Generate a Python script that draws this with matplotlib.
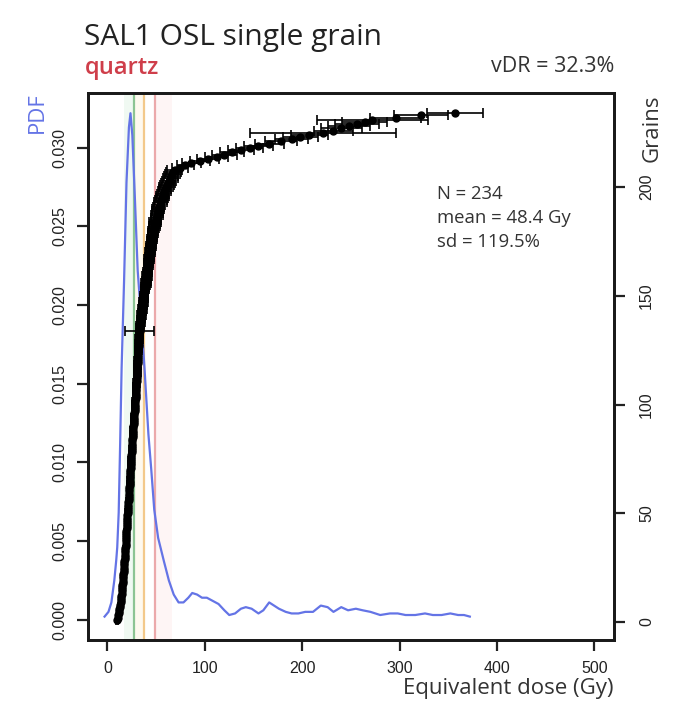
import matplotlib
matplotlib.use("Agg")
import matplotlib.pyplot as plt
import numpy as np

# Sorted equivalent doses (Gy) of the 234 accepted grains
de_gy = [
    10.0, 10.6, 11.1, 11.5, 11.9, 12.3, 12.7, 13.1, 13.5,
    13.7, 14.0, 14.2, 14.5, 14.7, 14.9, 15.2, 15.4, 15.6, 15.8, 16.0,
    16.2, 16.3, 16.5, 16.7, 16.9, 17.0, 17.2, 17.3, 17.5, 17.7, 17.8, 18.0, 18.1, 18.3, 18.5,
    18.6, 18.8, 18.9, 19.1, 19.2, 19.4, 19.5, 19.7, 19.8, 20.0, 20.1, 20.2, 20.4, 20.5, 20.7,
    20.8, 21.0, 21.1, 21.3, 21.4, 21.6, 21.7, 21.9, 22.0,
    22.1, 22.3, 22.4, 22.6, 22.7, 22.9, 23.0, 23.2, 23.3, 23.5, 23.6, 23.8, 23.9, 24.0, 24.2,
    24.3, 24.5, 24.6, 24.8, 24.9, 25.0, 25.2, 25.3,
    25.5, 25.6, 25.8, 26.0, 26.1, 26.3, 26.5, 26.6, 26.8, 27.0, 27.1, 27.3, 27.5, 27.6, 27.8,
    28.0, 28.2, 28.3, 28.5, 28.7,
    28.8, 28.9, 29.1, 29.2, 29.3, 29.5, 29.6, 29.7, 29.8, 30.0, 30.1, 30.2, 30.4, 30.5,
    30.6, 30.8, 30.9, 31.0, 31.2, 31.3, 31.4, 31.6, 31.7, 31.8, 32.0, 32.1, 32.2, 32.4, 32.5,
    32.7, 32.8, 32.9,
    33.2, 33.5, 33.8, 34.0, 34.3, 34.6, 34.9, 35.2, 35.5, 35.8, 36.1, 36.4, 36.7, 37.0, 37.3,
    37.6, 37.9, 38.2, 38.5, 38.8, 39.2, 39.6, 40.0,
    40.3, 40.6, 40.9, 41.2, 41.5, 41.8, 42.1, 42.4, 42.7, 43.0, 43.3, 43.6, 43.9, 44.2, 44.5,
    44.8, 45.1, 45.4, 45.7, 46.0, 46.3, 46.7, 47.0,
    47.5, 48.0, 48.5, 49.0, 49.5, 50.0, 50.5, 51.0, 51.6, 52.2, 52.8, 53.4, 54.2, 55.0,
    55.8, 56.6, 57.4, 58.2, 59.1, 60.0,
    61.0, 62.1, 63.2, 64.3, 65.4, 66.5, 67.7, 69.0,
    74.0, 80.0, 86.0, 95.0, 103.0, 112.0, 120.0, 128.0, 137.0, 146.0, 155.0,
    166.0, 178.0, 189.0, 198.0, 207.0, 221.0, 232.0, 240.0, 248.0, 256.0, 264.0, 272.0,
    296.0, 322.0, 357.0,
]

# One-sigma dose errors (Gy), same order
de_err = [
    1.2, 1.0, 1.4, 0.9, 1.3, 1.1, 1.5, 1.0, 1.2,
    1.3, 1.6, 1.1, 1.4, 1.2, 1.7, 1.3, 1.5, 1.2, 1.6, 1.4,
    1.5, 1.8, 1.3, 1.6, 1.4, 1.9, 1.5, 1.7, 1.3, 1.8, 1.6, 1.4, 1.9, 1.5, 1.7,
    1.6, 2.0, 1.5, 1.8, 1.7, 2.1, 1.6, 1.9, 1.5, 2.2, 1.8, 1.7, 2.0, 1.6, 2.3,
    1.9, 1.8, 2.1, 1.7, 2.4, 2.0, 1.8, 2.2, 1.9,
    2.0, 2.4, 1.8, 2.2, 2.1, 2.5, 1.9, 2.3, 2.0, 2.6, 2.2, 2.1, 2.4, 2.0, 2.7,
    2.3, 2.2, 2.5, 2.1, 2.8, 2.4, 2.3, 2.6,
    2.5, 2.9, 2.3, 2.7, 2.4, 3.0, 2.6, 2.5, 2.8, 2.4, 3.1, 2.7, 2.6, 2.9, 2.5,
    3.2, 2.8, 2.7, 3.0, 2.6,
    3.0, 2.7, 3.3, 2.9, 2.8, 3.1, 2.7, 3.4, 3.0, 2.9, 3.2, 2.8, 3.5, 3.1,
    3.0, 3.3, 2.9, 3.6, 3.2, 3.1, 3.4, 3.0, 3.7, 3.3, 3.2, 3.5, 3.1, 3.8, 3.4,
    3.3, 3.6, 14.5,
    3.5, 3.9, 3.4, 4.0, 3.6, 3.5, 4.2, 3.7, 3.6, 4.3, 3.8, 3.7, 4.4, 3.9, 3.8,
    4.5, 4.0, 3.9, 4.6, 4.1, 4.0, 4.7, 4.2,
    4.3, 4.8, 4.2, 4.9, 4.4, 4.3, 5.0, 4.5, 4.4, 5.1, 4.6, 4.5, 5.2, 4.7, 4.6,
    5.3, 4.8, 4.7, 5.4, 4.9, 4.8, 5.5, 5.0,
    5.2, 5.8, 5.1, 5.9, 5.3, 5.4, 6.0, 5.5, 5.6, 6.2, 5.7, 5.8, 6.4, 6.0,
    6.1, 6.6, 6.2, 6.8, 6.4, 7.0,
    6.8, 7.4, 6.9, 7.6, 7.1, 7.8, 7.3, 8.0,
    8.2, 9.0, 9.5, 10.0, 11.0, 11.5, 12.5, 12.0, 13.5, 14.0, 14.5,
    15.0, 16.5, 17.0, 18.0, 19.0, 75.0, 20.0, 21.0, 22.0, 22.5, 23.0, 57.0,
    26.0, 28.0, 29.0,
]

# Kernel density estimate of the dose distribution
kde_dose = [
    -3, 1, 4, 7, 9, 10, 11.5, 13, 14.5, 17, 19.5, 22, 23.6, 25.5, 28, 31, 35, 38,
    42, 45, 48, 52, 58, 63, 68, 73, 78, 83, 87, 92, 97, 102, 108, 114, 120, 125,
    131, 137, 142, 148, 155, 160, 166, 171, 176, 183, 189, 196, 203, 211, 219,
    226, 232, 240, 247, 255, 262, 270, 280, 290, 298, 306, 316, 326, 334, 343,
    352, 360, 366, 372,
]
kde_density = [
    0.0002, 0.0005, 0.0011, 0.0025, 0.0038, 0.0046, 0.0068, 0.0112, 0.0160,
    0.0215, 0.0278, 0.0313, 0.0322, 0.0308, 0.0270, 0.0222, 0.0188, 0.0160,
    0.0118, 0.0095, 0.0070, 0.0052, 0.0037, 0.0025, 0.0016, 0.0011, 0.0011,
    0.0014, 0.0017, 0.0016, 0.0014, 0.0014, 0.0012, 0.0010, 0.0006, 0.0003,
    0.0004, 0.0007, 0.0008, 0.0007, 0.0004, 0.0006, 0.0011, 0.0009, 0.0007,
    0.0005, 0.0004, 0.0004, 0.0005, 0.0005, 0.0009, 0.0008, 0.0005, 0.0008,
    0.0006, 0.0007, 0.0006, 0.0005, 0.0003, 0.0004, 0.0004, 0.0003, 0.0003,
    0.0004, 0.0003, 0.0003, 0.0004, 0.0003, 0.0003, 0.0002,
]

# Summary statistic lines (Gy) and their colours
stat_lines = [27.7, 37.0, 49.0]
stat_colors = ["#8cc493", "#f3c98a", "#eba9ab"]
stat_bands = [(17.0, 27.7), (27.7, 37.0), (49.0, 66.0)]
band_colors = ["#f0f9f2", "#fef9ef", "#fef5f5"]

x_ticks = [0, 100, 200, 300, 400, 500]
pdf_ticks = [0.000, 0.005, 0.010, 0.015, 0.020, 0.025, 0.030]
grain_ticks = [0, 50, 100, 150, 200]

TEXT_FONT = ["Open Sans", "DejaVu Sans"]
TICK_FONT = ["Liberation Sans", "DejaVu Sans"]

n = len(de_gy)
ranks = np.arange(1, n + 1)
pdf_max = max(kde_density)

fig = plt.figure(figsize=(6.86, 7.15), dpi=100)
ax = fig.add_axes([0.1283, 0.1049, 0.7667, 0.7651])

# R-style 4 % axis expansion
ax.set_xlim(0 - 0.04 * 500, 500 + 0.04 * 500)
ax.set_ylim(-0.04 * pdf_max, pdf_max * 1.04)

for (lo, hi), c in zip(stat_bands, band_colors):
    ax.axvspan(lo, hi, color=c, lw=0, zorder=1)
for v, c in zip(stat_lines, stat_colors):
    ax.axvline(v, color=c, lw=1.6, zorder=2)

ax.plot(kde_dose, kde_density, color="#6474e6", lw=1.6, zorder=3,
        solid_joinstyle="round")

ax.set_xticks(x_ticks)
ax.set_yticks(pdf_ticks)
ax.set_yticklabels([f"{t:.3f}" for t in pdf_ticks])
ax.tick_params(axis="both", direction="out", length=8, width=1.6,
               colors="#222222", labelsize=11.5, pad=7)
for lbl in ax.get_xticklabels() + ax.get_yticklabels():
    lbl.set_fontfamily(TICK_FONT)
for lbl in ax.get_yticklabels():
    lbl.set_rotation(90)
    lbl.set_va("center")
for sp in ax.spines.values():
    sp.set_linewidth(2.0)
    sp.set_color("#1a1a1a")

ax2 = ax.twinx()
ax2.set_ylim(1 - 0.04 * (n - 1), n + 0.04 * (n - 1))
ax2.errorbar(de_gy, ranks, xerr=de_err, fmt="o", color="black",
             ms=5.0, mec="black", ecolor="black", elinewidth=1.2,
             capsize=3.6, capthick=1.2, zorder=4)
ax2.set_yticks(grain_ticks)
ax2.tick_params(axis="y", direction="out", length=8, width=1.6,
                colors="#222222", labelsize=11.5, pad=10)
for lbl in ax2.get_yticklabels():
    lbl.set_fontfamily(TICK_FONT)
    lbl.set_rotation(90)
    lbl.set_va("center")
for sp in ax2.spines.values():
    sp.set_linewidth(2.0)
    sp.set_color("#1a1a1a")

# Axis titles
fig.text(0.055, 0.842, "PDF", rotation=90, color="#6474e6", fontsize=16,
         family=TEXT_FONT, ha="center", va="center")
fig.text(0.950, 0.820, "Grains", rotation=90, color="#333333", fontsize=16,
         family=TEXT_FONT, ha="center", va="center")
fig.text(0.895, 0.037, "Equivalent dose (Gy)", color="#333333", fontsize=16,
         family=TEXT_FONT, ha="right", va="center")

# Headings
fig.text(0.122, 0.947, "SAL1 OSL single grain", color="#222222", fontsize=21.5,
         family=TEXT_FONT, ha="left", va="center")
fig.text(0.124, 0.905, "quartz", color="#cf3e4a", fontsize=17,
         family=TEXT_FONT, weight="semibold", ha="left", va="center")
fig.text(0.895, 0.907, "vDR = 32.3%", color="#333333", fontsize=15.5,
         family=TEXT_FONT, ha="right", va="center")

# Summary statistics
stats = ["N = 234", "mean = 48.4 Gy", "sd = 119.5%"]
for i, s in enumerate(stats):
    fig.text(0.637, 0.728 - i * 0.0335, s, color="#333333", fontsize=13.3,
             family=TEXT_FONT, ha="left", va="center")

fig.savefig("out.png", dpi=100)
